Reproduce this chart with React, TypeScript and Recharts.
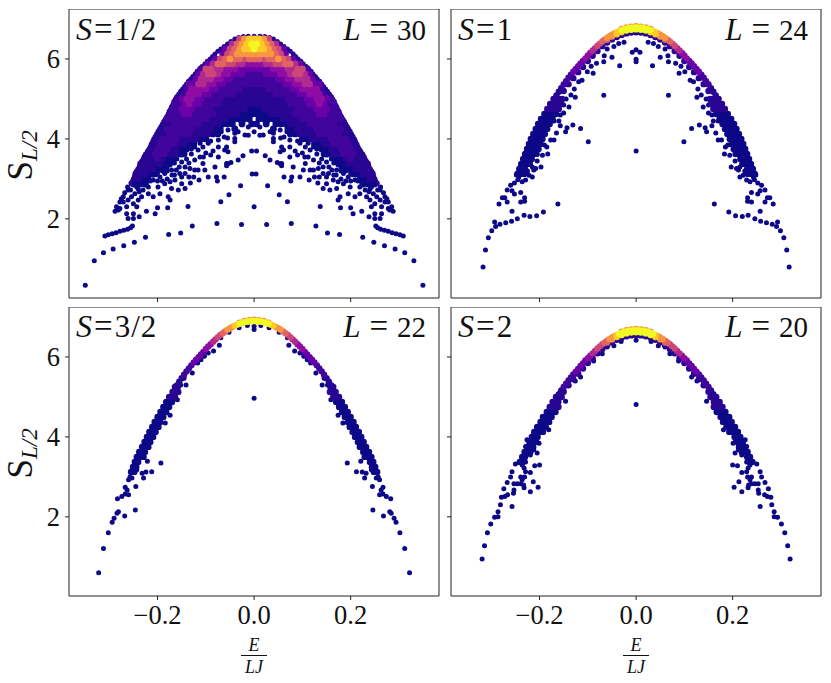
import React from 'react';
import { ScatterChart, Scatter, XAxis, YAxis, Label, ReferenceLine } from 'recharts';

// plasma colours, one per density level (hex digit in the heat rows)
const levelColors = [
  '#0d0887', '#280592', '#41049d', '#6a00a8', '#8f0da4', '#b12a90',
  '#cc4778', '#e16462', '#f89540', '#fdca26', '#f0f921',
];

const xTicks = [-0.2, 0, 0.2];
const yTicks = [2, 4, 6];
const xDomain = [-0.3834, 0.383];
const yDomain = [0.02, 7.25];

// S=1/2 dense part, right half: one string per energy row, column i is x = i/100
// (odd rows sit half a column to the left, the cloud looks hexagonal)
const heatY = [
  6.5, 6.375, 6.25, 6.125, 6.0, 5.875, 5.75, 5.625, 5.5, 5.375, 5.25, 5.125, 5.0, 4.875, 4.75,
  4.625, 4.5, 4.375, 4.25, 4.125, 4.0, 3.875, 3.75, 3.625, 3.5, 3.375, 3.25, 3.125, 3.0, 2.875,
];
const heatRows = [
  '9986',
  'a99875',
  'a998763',
  '88888763',
  '776778763',
  '44455667753',
  '333344455662',
  '2223334456653',
  '2222233445553',
  '122222233445533',
  '111222223344442',
  '1111122222334442',
  '11111112222334432',
  '011111112222334322',
  '001111111222233322',
  '0000111112222233222',
  '.000001111222222222',
  '.0.0.000111122222211',
  '....0..0011112222221',
  '........0011112222211',
  '..........00111122221',
  '.............001122221',
  '..............00112221',
  '...............00112221',
  '.................001211',
  '..................0011111',
  '...................00111',
  '.....................00111',
  '......................001',
  '.......................000',
];

// isolated eigenstates, right half [x, y]
const scatterA = [
  [0.3497, 0.336], [0.331, 0.954], [0.312, 1.155], [0.292, 1.246], [0.27, 1.33], [0.248, 1.413],
  [0.225, 1.539], [0.177, 1.606], [0.152, 1.647], [0.128, 1.823], [0.077, 1.881], [0.026, 1.856],
  [0.309, 1.57], [0.302, 1.605], [0.294, 1.63], [0.286, 1.655], [0.278, 1.69], [0.27, 1.715],
  [0.262, 1.74], [0.256, 1.78], [0.252, 1.82], [0.25, 2.007], [0.261, 2.007], [0.238, 2.05],
  [0.223, 2.19], [0.205, 2.13], [0.2, 2.28], [0.179, 2.28], [0.137, 2.31], [0, 2.3],
  [0.069, 2.43], [0.052, 2.6], [0.028, 2.83], [0.004, 3.12], [0.005, 3.7], [0.023, 3.58],
  [0.033, 3.47], [0.048, 3.41], [0.054, 3.38], [0.057, 3.33], [0.062, 3.05], [0.076, 2.95],
  [0.078, 3.05], [0.095, 3.05], [0.114, 2.97], [0.132, 2.9], [0.15, 2.88], [0.174, 2.47], [0.178, 2.55],
  [0.012, 4.3], [0, 4.18], [0.019, 4.1], [0.033, 4.18], [0.04, 4.14], [0.04, 3.93], [0.04, 4.01],
  [0.012, 4.09], [0.054, 4.22], [0.068, 4.18], [0.062, 4.05], [0.074, 3.97], [0.057, 3.8],
  [0.054, 3.68], [0.061, 3.72], [0.074, 3.8], [0.074, 3.55], [0.057, 3.385], [0.081, 4.3],
  [0.095, 3.89], [0.106, 3.8], [0.112, 3.89], [0.123, 3.8], [0.116, 3.72], [0.112, 3.55],
  [0.123, 3.47], [0.106, 3.385], [0.116, 3.22], [0.102, 3.22], [0.081, 3.3], [0.123, 3.22],
  [0.133, 3.26], [0.143, 3.3], [0.143, 3.135], [0.154, 3.135], [0.161, 3.22], [0.171, 3.22],
  [0.185, 3.135], [0.164, 2.97], [0.174, 2.93], [0.195, 3.05], [0.209, 2.97], [0.199, 2.8],
  [0.219, 2.8], [0.185, 2.88], [0.171, 2.76], [0.157, 2.72], [0.143, 2.76], [0.219, 2.63],
  [0.209, 2.55], [0.195, 2.63], [0.233, 2.97], [0.243, 2.8], [0.247, 2.63], [0.254, 2.55],
  [0.261, 2.47], [0.271, 2.42], [0.281, 2.22], [0.288, 2.19], [0.264, 2.3], [0.25, 2.38],
  [0.243, 2.3], [0.25, 2.13], [0.264, 2.13], [0.278, 2.26], [0.233, 2.55], [0.24, 2.47],
  [0.261, 2.72], [0.271, 2.55], [0.027, 4.42], [0.055, 4.02], [0.09, 4.12], [0.13, 3.62],
  [0.15, 3.42], [0.165, 3.4], [0.18, 3.3], [0.21, 3.1], [0.225, 2.9], [0.238, 2.68], [0.256, 2.72],
  [0.25, 3.0], [0.255, 2.9], [0.25, 2.85], [0.24, 2.75], [0.23, 2.72], [0.225, 2.85], [0.262, 2.8],
  [0.268, 2.65], [0.275, 2.5], [0.278, 2.42], [0.285, 2.3], [0.15, 3.6], [0.16, 3.5], [0.17, 3.45],
  [0.14, 3.5], [0.135, 3.4], [0.155, 3.3], [0.17, 3.1], [0.18, 3.2], [0.19, 3.2], [0.2, 3.15],
  [0.21, 3.2], [0.2, 2.95], [0.215, 2.95], [0.19, 2.95], [0.18, 3.0], [0.165, 3.1], [0.15, 3.05],
  [0.125, 3.05], [0.135, 3.05], [0.105, 3.55], [0.1, 3.65], [0.085, 3.7], [0.09, 3.95], [0.105, 4.0],
  [0.125, 3.95], [0.13, 3.75], [0.1, 4.42], [0.14, 3.95], [0.09, 3.6],
];
// outer rim of the S=1/2 cloud, right half [x, y]
const rimA = [
  [0, 6.57], [0.012, 6.57], [0.022, 6.56], [0.032, 6.54], [0.04, 6.5], [0.048, 6.44], [0.055, 6.375],
  [0.062, 6.31], [0.069, 6.25], [0.075, 6.19], [0.081, 6.125], [0.086, 6.06], [0.091, 6.0], [0.097, 5.94],
  [0.102, 5.875], [0.108, 5.81], [0.113, 5.75], [0.118, 5.69], [0.122, 5.625], [0.127, 5.56], [0.131, 5.5],
  [0.136, 5.44], [0.14, 5.375], [0.144, 5.31], [0.148, 5.25], [0.152, 5.19], [0.156, 5.125], [0.16, 5.06],
  [0.163, 5.0], [0.166, 4.94], [0.168, 4.875], [0.171, 4.81], [0.173, 4.75], [0.176, 4.69], [0.178, 4.625],
  [0.181, 4.56], [0.184, 4.5], [0.187, 4.44], [0.19, 4.375], [0.193, 4.31], [0.196, 4.25], [0.199, 4.19],
  [0.202, 4.125], [0.205, 4.06], [0.208, 4.0], [0.21, 3.94], [0.213, 3.875], [0.215, 3.81], [0.218, 3.75],
  [0.221, 3.69], [0.225, 3.625], [0.228, 3.56], [0.23, 3.5], [0.233, 3.44], [0.236, 3.375], [0.238, 3.31],
  [0.241, 3.25], [0.244, 3.19], [0.246, 3.125], [0.248, 3.06], [0.25, 3.0], [0.252, 2.94], [0.254, 2.875],
];

// ridge of the S=1 panel, right half [x, y, level]
const arcB = [
  [0, 6.82, 8], [0.01, 6.81, 8], [0.02, 6.79, 8], [0.03, 6.75, 8],
  [0, 6.79, 10], [0.005, 6.785, 10], [0.01, 6.78, 10], [0.015, 6.77, 10], [0.02, 6.76, 10], [0.025, 6.74, 10],
  [0.03, 6.72, 10], [0.035, 6.695, 9], [0.04, 6.67, 9], [0.045, 6.64, 8], [0.05, 6.61, 8], [0.055, 6.57, 8],
  [0.06, 6.53, 8], [0.065, 6.485, 7], [0.07, 6.44, 7], [0.075, 6.385, 6], [0.08, 6.33, 6], [0.085, 6.27, 5],
  [0.09, 6.21, 5], [0.095, 6.15, 4], [0.1, 6.09, 4], [0.105, 6.015, 4], [0.11, 5.95, 3], [0.115, 5.885, 3],
  [0.12, 5.82, 3], [0.125, 5.75, 3], [0.13, 5.68, 3], [0.135, 5.605, 2], [0.14, 5.53, 2], [0.145, 5.445, 2],
  [0.15, 5.36, 2], [0.155, 5.27, 1], [0.16, 5.18, 1], [0.165, 5.09, 1],
  [0, 6.74, 10], [0.01, 6.73, 10], [0.02, 6.71, 10], [0.03, 6.67, 9], [0.04, 6.62, 9], [0.05, 6.56, 8], [0.06, 6.48, 7],
  [0, 6.67, 1], [0.01, 6.66, 1], [0.02, 6.64, 1], [0.03, 6.6, 1], [0.04, 6.55, 1], [0.05, 6.49, 1], [0.06, 6.41, 1],
  [0.07, 6.32, 1], [0.08, 6.2, 1], [0.09, 6.08, 1], [0.1, 5.95, 1], [0.11, 5.8, 1], [0.12, 5.67, 1], [0.13, 5.52, 1],
  [0.14, 5.37, 1], [0.15, 5.2, 1],
];
// side of the ridge: [y, level, x, x, ...]
const sideB = [
  [5.0, 1, 0.171, 0.165, 0.159, 0.153], [4.875, 1, 0.178, 0.172, 0.166, 0.16, 0.155],
  [4.75, 1, 0.184, 0.178, 0.172, 0.166, 0.16], [4.625, 0, 0.19, 0.184, 0.178, 0.172, 0.166],
  [4.5, 0, 0.197, 0.191, 0.185, 0.179, 0.173], [4.375, 0, 0.203, 0.197, 0.191, 0.185, 0.179],
  [4.25, 0, 0.208, 0.202, 0.196, 0.19, 0.184], [4.125, 0, 0.213, 0.207, 0.201, 0.195, 0.189],
  [4.0, 0, 0.218, 0.212, 0.206, 0.2, 0.194], [3.875, 0, 0.222, 0.216, 0.21, 0.204, 0.198],
  [3.75, 0, 0.226, 0.22, 0.214, 0.208, 0.202], [3.625, 0, 0.23, 0.224, 0.218, 0.212, 0.206],
  [3.5, 0, 0.234, 0.228, 0.222, 0.216], [3.375, 0, 0.238, 0.232, 0.226, 0.22],
  [3.25, 0, 0.242, 0.236, 0.23], [3.125, 0, 0.246, 0.24, 0.232],
];
const scatterB = [
  [0.317, 0.795], [0.312, 1.22], [0.306, 1.53], [0.299, 1.7], [0.291, 1.81], [0.293, 1.92],
  [0.282, 1.865], [0.27, 1.9], [0.258, 1.94], [0.246, 2.0], [0.232, 2.09], [0.22, 2.06],
  [0.206, 2.08], [0.192, 2.17], [0.162, 2.37], [0.257, 2.19], [0.284, 2.37], [0.272, 2.53],
  [0.277, 2.53], [0.267, 2.42], [0.231, 2.53], [0.231, 2.44], [0.239, 2.42], [0.239, 2.66],
  [0.252, 2.62], [0.257, 2.7], [0.267, 2.72], [0.26, 2.84], [0.236, 2.93], [0.243, 3.05],
  [0.229, 2.97], [0.222, 3.09], [0.212, 3.22], [0.208, 3.26], [0.197, 3.3], [0.183, 3.62],
  [0.194, 3.59], [0.177, 3.97], [0.17, 3.97], [0.157, 4.33], [0.146, 4.18], [0.143, 4.28],
  [0.131, 4.35], [0.115, 4.26], [0.099, 3.93], [0, 3.7], [0.067, 5.09], [0.126, 5.04],
  [0.139, 4.8], [0.15, 4.65], [0.157, 4.6], [0.034, 5.83], [0, 5.93], [0, 5.99], [0.008, 6.17],
  [0, 6.23], [0.05, 6.04], [0.066, 6.08], [0.067, 5.93], [0.082, 5.89], [0.093, 5.82],
  [0.089, 5.64], [0.101, 5.68], [0.112, 5.47], [0.119, 5.43], [0.036, 6.39], [0.046, 6.31],
  [0.025, 6.42], [0.06, 6.25], [0.215, 3.3], [0.225, 3.2], [0.235, 3.2], [0.24, 3.3], [0.22, 3.4],
  [0.245, 2.98], [0.252, 2.9], [0.248, 3.1], [0.215, 3.05], [0.205, 3.45], [0.19, 3.85], [0.185, 3.8],
  [0.165, 4.15], [0.17, 4.45], [0.16, 4.45], [0.128, 5.25], [0.135, 5.1], [0.145, 5.0], [0.15, 4.85],
];

const arcC = [
  [0, 6.93, 8], [0.01, 6.92, 8], [0.02, 6.9, 8], [0.03, 6.86, 8],
  [0, 6.9, 10], [0.005, 6.895, 10], [0.01, 6.89, 10], [0.015, 6.88, 10], [0.02, 6.87, 10], [0.025, 6.85, 10],
  [0.03, 6.83, 10], [0.035, 6.805, 9], [0.04, 6.78, 9], [0.045, 6.75, 8], [0.05, 6.72, 8], [0.055, 6.68, 8],
  [0.06, 6.64, 7], [0.065, 6.595, 7], [0.07, 6.55, 6], [0.075, 6.495, 6], [0.08, 6.44, 5], [0.085, 6.38, 5],
  [0.09, 6.32, 4], [0.095, 6.26, 4], [0.1, 6.2, 4], [0.105, 6.125, 3], [0.11, 6.06, 3], [0.115, 5.995, 3],
  [0.12, 5.93, 3], [0.125, 5.86, 3], [0.13, 5.79, 2], [0.135, 5.715, 2], [0.14, 5.64, 2], [0.145, 5.555, 2],
  [0.15, 5.47, 1], [0.155, 5.38, 1], [0.16, 5.29, 1],
];
const sideC = [
  [5.25, 1, 0.164, 0.158], [5.125, 1, 0.169, 0.163, 0.157], [5.0, 1, 0.176, 0.17, 0.164],
  [4.875, 0, 0.182, 0.176, 0.17], [4.75, 0, 0.188, 0.182, 0.176], [4.625, 0, 0.194, 0.188, 0.182],
  [4.5, 0, 0.2, 0.194, 0.188], [4.375, 0, 0.206, 0.2, 0.194], [4.25, 0, 0.211, 0.205, 0.198],
  [4.125, 0, 0.217, 0.211, 0.204], [4.0, 0, 0.222, 0.216, 0.209], [3.875, 0, 0.227, 0.221, 0.215],
  [3.75, 0, 0.232, 0.226, 0.219], [3.625, 0, 0.238, 0.232, 0.226], [3.5, 0, 0.243, 0.236, 0.229],
  [3.375, 0, 0.247, 0.24], [3.25, 0, 0.251, 0.244], [3.125, 0, 0.255, 0.248],
];
const scatterC = [
  [0.322, 0.603], [0.312, 1.21], [0.302, 1.6], [0.294, 1.865], [0.29, 1.965], [0.284, 2.09],
  [0.281, 2.13], [0.283, 2.45], [0.274, 2.51], [0.267, 2.57], [0.263, 2.67], [0.267, 2.74],
  [0.26, 2.55], [0.268, 2.02], [0.246, 2.17], [0.245, 2.76], [0.26, 2.93], [0.253, 2.97],
  [0.229, 2.97], [0.224, 3.12], [0.212, 3.13], [0.193, 3.35], [0.221, 3.39], [0.246, 3.39],
  [0.253, 3.13], [0.257, 3.0], [0.243, 3.18], [0.232, 3.09], [0, 4.97], [0, 6.69], [0, 6.77],
  [0.069, 6.48], [0.072, 6.29], [0.084, 6.15], [0.103, 6.015], [0.11, 5.93], [0.117, 5.85],
  [0.141, 5.3], [0.159, 4.93], [0.174, 4.54], [0.184, 4.35], [0.145, 5.47], [0.152, 5.3],
  [0.166, 4.98], [0.052, 6.62], [0.031, 6.73], [0.014, 6.79], [0.095, 6.1], [0.128, 5.6],
];

const arcD = [
  [0, 6.7, 8], [0.01, 6.69, 8], [0.02, 6.67, 8], [0.03, 6.63, 8],
  [0, 6.67, 10], [0.005, 6.665, 10], [0.01, 6.66, 10], [0.015, 6.65, 10], [0.02, 6.64, 10], [0.025, 6.62, 10],
  [0.03, 6.6, 10], [0.035, 6.575, 10], [0.04, 6.55, 9], [0.045, 6.52, 8], [0.05, 6.49, 8], [0.055, 6.45, 8],
  [0.06, 6.41, 7], [0.065, 6.365, 7], [0.07, 6.32, 6], [0.075, 6.265, 6], [0.08, 6.21, 6], [0.085, 6.15, 5],
  [0.09, 6.09, 5], [0.095, 6.03, 4], [0.1, 5.97, 4], [0.105, 5.91, 3], [0.11, 5.84, 3], [0.115, 5.775, 3],
  [0.12, 5.7, 3], [0.125, 5.63, 3], [0.13, 5.56, 2], [0.135, 5.485, 2], [0.14, 5.41, 2], [0.145, 5.33, 2],
  [0.15, 5.25, 2], [0.155, 5.16, 1], [0.16, 5.07, 1],
  [0, 6.62, 10], [0.01, 6.61, 10], [0.02, 6.59, 10], [0.03, 6.55, 10], [0.04, 6.5, 9], [0.05, 6.44, 8], [0.06, 6.36, 7],
  [0, 6.55, 1], [0.01, 6.54, 1], [0.02, 6.52, 1], [0.03, 6.48, 1], [0.04, 6.43, 1], [0.05, 6.37, 1], [0.06, 6.29, 1],
  [0.07, 6.2, 1], [0.08, 6.09, 1], [0.09, 5.97, 1], [0.1, 5.85, 1], [0.11, 5.71, 1], [0.12, 5.58, 1], [0.13, 5.44, 1],
  [0.14, 5.29, 1], [0.15, 5.13, 1],
];
const sideD = [
  [5.0, 1, 0.166, 0.16, 0.154], [4.875, 1, 0.173, 0.167, 0.161], [4.75, 1, 0.179, 0.173, 0.167, 0.161],
  [4.625, 0, 0.185, 0.179, 0.173, 0.167], [4.5, 0, 0.193, 0.187, 0.181, 0.175],
  [4.375, 0, 0.198, 0.192, 0.186, 0.18], [4.25, 0, 0.205, 0.199, 0.193, 0.187],
  [4.125, 0, 0.211, 0.205, 0.199, 0.193], [4.0, 0, 0.216, 0.21, 0.204], [3.875, 0, 0.221, 0.215, 0.209],
  [3.75, 0, 0.226, 0.22, 0.213], [3.625, 0, 0.231, 0.225, 0.219], [3.5, 0, 0.236, 0.23], [3.375, 0, 0.241, 0.235],
];
const scatterD = [
  [0.319, 0.946], [0.314, 1.28], [0.308, 1.6], [0.301, 1.82], [0.293, 1.99], [0.286, 2.0],
  [0.286, 2.13], [0.281, 2.3], [0.279, 2.49], [0.272, 2.51], [0.266, 2.55], [0.257, 2.26],
  [0.274, 2.7], [0.267, 2.86], [0.26, 3.0], [0.257, 3.13], [0.254, 2.59], [0.253, 2.67],
  [0.219, 2.63], [0.203, 2.74], [0.213, 2.88], [0.232, 2.73], [0.233, 2.8], [0.239, 2.83],
  [0.246, 2.83], [0.253, 2.83], [0.236, 2.93], [0.231, 3.0], [0.229, 3.13], [0.239, 3.0],
  [0.219, 3.11], [0.2, 3.3], [0.21, 3.28], [0.229, 3.37], [0.236, 3.3], [0.232, 3.22],
  [0.25, 3.32], [0, 4.81], [0, 6.42], [0.031, 6.39], [0.046, 6.28], [0.06, 6.25], [0.07, 6.08],
  [0.088, 5.9], [0.115, 5.5], [0.126, 5.4], [0.146, 4.89], [0.16, 4.76], [0.177, 4.51],
  [0.174, 4.6], [0.181, 4.18], [0.201, 3.84], [0.206, 3.93], [0.212, 3.68], [0.219, 3.55],
  [0.205, 3.6], [0.215, 3.84], [0.229, 3.76], [0.226, 3.93],
];

type Dot = { x: number; y: number; level: number };

// spectrum is symmetric in E, so only the right half is listed
const mirrored = (dots: Dot[]) => dots.flatMap((d) => (d.x === 0 ? [d] : [d, { ...d, x: -d.x }]));

const heatDots = mirrored(
  heatRows.flatMap((row, r) =>
    row.split('').flatMap((ch, i) =>
      ch === '.' ? [] : [{ x: (i - (r % 2) / 2) / 100, y: heatY[r], level: parseInt(ch, 16) }]
    )
  )
);
const plainDots = (list: number[][], level = 0) => mirrored(list.map(([x, y]) => ({ x, y, level })));
const arcDots = (list: number[][]) => mirrored(list.map(([x, y, level]) => ({ x, y, level })));
const sideDots = (list: number[][]) =>
  mirrored(list.flatMap(([y, level, ...xs]) => xs.map((x) => ({ x, y, level }))));

const byLevel = (dots: Dot[]) =>
  levelColors.map((color, level) => ({ color, level, dots: dots.filter((d) => d.level === level) }));

const frame = '#222222';
const font = '"Liberation Serif", serif';

const YLabel = ({ viewBox }: any) => {
  const cy = viewBox.y + viewBox.height / 2;
  return (
    <text transform={`translate(32,${cy + 27}) rotate(-90)`} fontFamily={font} fill='#111'>
      <tspan fontSize={35}>S</tspan>
      <tspan fontSize={23} fontStyle='italic' dy={5}>L/2</tspan>
    </text>
  );
};

const XLabel = ({ viewBox }: any) => {
  const cx = viewBox.x + viewBox.width / 2;
  const axisY = viewBox.y;
  return (
    <g fontFamily={font} fontStyle='italic' fontSize={18} fill='#111' textAnchor='middle'>
      <text x={cx} y={axisY + 55}>E</text>
      <line x1={cx - 13} x2={cx + 13} y1={axisY + 59.5} y2={axisY + 59.5} stroke='#111' strokeWidth={1} />
      <text x={cx} y={axisY + 77}>LJ</text>
    </g>
  );
};

type PanelProps = {
  left: number;
  top: number;
  showX: boolean;
  showY: boolean;
  big: Dot[];
  bigR: number;
  small: Dot[];
};

const chartW = 372;
const PLOT_H = 289;

const Panel = ({ left, top, showX, showY, big, bigR, small }: PanelProps) => {
  const yAxisW = showY ? 69 : 12;
  const xAxisH = showX ? 85 : 8;
  const width = yAxisW + chartW - 1;
  return (
    <div style={{ position: 'absolute', left: left - yAxisW, top }}>
      <ScatterChart
        width={width}
        height={PLOT_H + xAxisH}
        margin={{ top: 0, right: 1, bottom: 0, left: 0 }}
      >
        <XAxis
          type='number'
          dataKey='x'
          domain={xDomain}
          ticks={xTicks}
          height={xAxisH}
          allowDataOverflow
          tickSize={4}
          tickMargin={5}
          interval={0}
          stroke={frame}
          tick={{ fontFamily: font, fontSize: 26.5, fill: '#111' }}
          tickFormatter={(v: number) => (showX ? v.toFixed(1).replace('-', '\u2212') : '')}
        >
          {showX && <Label content={XLabel} />}
        </XAxis>
        <YAxis
          type='number'
          dataKey='y'
          domain={yDomain}
          ticks={yTicks}
          width={yAxisW}
          allowDataOverflow
          tickSize={4}
          tickMargin={5}
          interval={0}
          stroke={frame}
          tick={{ fontFamily: font, fontSize: 26.5, fill: '#111' }}
          tickFormatter={(v: number) => (showY ? String(v) : '')}
        >
          {showY && <Label content={YLabel} />}
        </YAxis>
        {byLevel(small).map((g) => (
          <Scatter
            key={`s${g.level}`}
            data={g.dots}
            fill={g.color}
            isAnimationActive={false}
            shape={(p: any) => <circle cx={p.cx} cy={p.cy} r={2.5} fill={g.color} />}
          />
        ))}
        {byLevel(big).map((g) => (
          <Scatter
            key={`b${g.level}`}
            data={g.dots}
            fill={g.color}
            isAnimationActive={false}
            shape={(p: any) => <circle cx={p.cx} cy={p.cy} r={bigR} fill={g.color} />}
          />
        ))}
        <ReferenceLine x={xDomain[1]} stroke={frame} ifOverflow='visible' />
        <ReferenceLine y={yDomain[1]} stroke={frame} ifOverflow='visible' />
      </ScatterChart>
    </div>
  );
};

const Note = ({ x, y, anchor, children }: any) => (
  <div
    style={{
      position: 'absolute',
      ...(anchor === 'right' ? { right: 831 - x } : { left: x }),
      top: y,
      fontFamily: font,
      fontSize: 29,
      lineHeight: '30px',
      color: '#111',
      whiteSpace: 'pre',
    }}
  >
    {children}
  </div>
);

const Equals = ({ gap }: { gap: number }) => (
  <span style={{ fontSize: 33, lineHeight: 0, margin: `0 ${gap}px` }}>=</span>
);

const SpinNote = ({ x, y, value }: any) => (
  <Note x={x} y={y}>
    <i style={{ fontSize: 32, lineHeight: 0 }}>S</i>
    <Equals gap={2} />
    <span style={{ fontSize: 31, lineHeight: 0, letterSpacing: 1 }}>{value}</span>
  </Note>
);
const SizeNote = ({ x, y, value }: any) => (
  <Note x={x} y={y} anchor='right'>
    <i style={{ fontSize: 31, lineHeight: 0 }}>L</i>
    <Equals gap={9} />
    {value}
  </Note>
);

export default function App() {
  return (
    <div style={{ position: 'absolute', left: 0, top: 0, width: 831, height: 683 }}>
      <Panel left={69} top={9} showX={false} showY big={heatDots} bigR={3.4} small={[...plainDots(scatterA), ...plainDots(rimA, 1)]} />
      <Panel left={451} top={9} showX={false} showY={false} big={[...sideDots(sideB), ...arcDots(arcB)]} bigR={3.2} small={plainDots(scatterB)} />
      <Panel left={69} top={307} showX showY big={[...sideDots(sideC), ...arcDots(arcC)]} bigR={3.2} small={plainDots(scatterC)} />
      <Panel left={451} top={307} showX showY={false} big={[...sideDots(sideD), ...arcDots(arcD)]} bigR={3.2} small={plainDots(scatterD)} />
      <SpinNote x={76} y={15} value='1/2' />
      <SizeNote x={426} y={15} value='30' />
      <SpinNote x={458} y={15} value='1' />
      <SizeNote x={808} y={15} value='24' />
      <SpinNote x={76} y={312} value='3/2' />
      <SizeNote x={426} y={312} value='22' />
      <SpinNote x={458} y={312} value='2' />
      <SizeNote x={808} y={312} value='20' />
    </div>
  );
}
